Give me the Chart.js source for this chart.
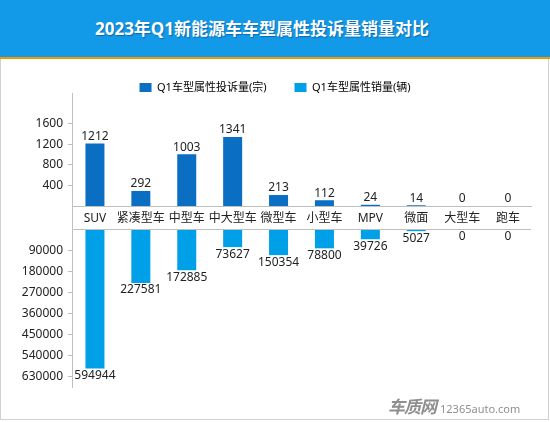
<!DOCTYPE html>
<html>
<head>
<meta charset="utf-8">
<script src="https://cdn.jsdelivr.net/npm/chart.js@4.4.1/dist/chart.umd.min.js"></script>
<style>
  body { margin: 0; background: #fff; font-family: "Noto Sans", "Noto Sans CJK SC", sans-serif; }
  #wrap { position: relative; width: 550px; height: 422px; overflow: hidden; background: #fff; }
  #title { position: absolute; left: 0; top: 0; width: 550px; height: 57px; background: #1299e8; border-bottom: 2px solid #f39800; }
  #title span { position: absolute; left: 0; top: 0; width: 524px; line-height: 57px; text-align: center; color: #fff; font-weight: bold; font-size: 17px; text-shadow: 1px 1px 1px rgba(0, 50, 110, 0.45); }
  #panel { position: absolute; left: 0; top: 59px; width: 547px; height: 360px; border: 1px solid #d0d0d0; border-top: none; }
  #topChart { position: absolute; left: 0; top: 54px; }
  #bottomChart { position: absolute; left: 0; top: 230px; }
  #mark { position: absolute; left: 388px; top: 393px; color: #8f8f8f; white-space: nowrap; }
  #mark b { font-size: 17px; font-style: italic; letter-spacing: -1px; }
  #mark span { font-size: 11px; margin-left: 4px; }
</style>
</head>
<body>
<div id="wrap">
  <div id="title"><span>2023年Q1新能源车车型属性投诉量销量对比</span></div>
  <div id="panel"></div>
  <canvas id="topChart" width="550" height="176"></canvas>
  <canvas id="bottomChart" width="550" height="190"></canvas>
  <div id="mark"><b>车质网</b><span>12365auto.com</span></div>
</div>
<script>
const categories = ['SUV', '紧凑型车', '中型车', '中大型车', '微型车', '小型车', 'MPV', '微面', '大型车', '跑车'];
const complaints = [1212, 292, 1003, 1341, 213, 112, 24, 14, 0, 0];
// printed sales numbers
const salesLabels = [594944, 227581, 172885, 73627, 150354, 78800, 39726, 5027, 0, 0];
// bar lengths as drawn in the picture (微型车 bar is shorter than its label)
const sales = [594944, 227581, 172885, 73627, 108000, 78800, 39726, 5027, 0, 0];
const complaintTicks = [400, 800, 1200, 1600];
const salesTicks = [90000, 180000, 270000, 360000, 450000, 540000, 630000];
const seriesNames = ['Q1车型属性投诉量(宗)', 'Q1车型属性销量(辆)'];
const colors = ['#0a6fc2', '#00a0e8'];

const fontFamily = '"Noto Sans", "Noto Sans CJK SC", sans-serif';
Chart.defaults.font.family = fontFamily;
Chart.defaults.font.size = 12;
Chart.defaults.color = '#222';
const axisColor = '#bfbfbf';

// value text next to each bar end
const valueLabels = {
    id: 'valueLabels',
    afterDatasetsDraw(chart, args, opts) {
        const ctx = chart.ctx;
        const meta = chart.getDatasetMeta(0);
        ctx.save();
        ctx.font = '12px ' + fontFamily;
        ctx.fillStyle = '#222';
        ctx.textAlign = 'center';
        meta.data.forEach((bar, i) => {
            const txt = String(opts.texts[i]);
            if (opts.below) {
                ctx.textBaseline = 'top';
                ctx.fillText(txt, bar.x, bar.y + 1);
            } else {
                ctx.textBaseline = 'bottom';
                ctx.fillText(txt, bar.x, bar.y - 1);
            }
        });
        ctx.restore();
    }
};

// box round the category labels
const band = {
    id: 'band',
    afterDraw(chart) {
        const {ctx, chartArea} = chart;
        const x = Math.round(chartArea.left) + 0.5;
        const yb = chart.height - 0.5;
        ctx.save();
        ctx.strokeStyle = axisColor;
        ctx.lineWidth = 1;
        ctx.beginPath();
        ctx.moveTo(x, chartArea.top - 10);
        ctx.lineTo(x, yb);
        ctx.moveTo(x, yb);
        ctx.lineTo(Math.round(chartArea.right), yb);
        ctx.stroke();
        ctx.restore();
    }
};

function yAxis(ticks, max, reverse) {
    return {
        min: 0,
        max: max,
        reverse: reverse,
        afterBuildTicks: s => { s.ticks = ticks.map(v => ({value: v})); },
        afterFit: s => { s.width = 53; s.paddingTop = 0; s.paddingBottom = 0; },
        grid: { drawOnChartArea: false, drawTicks: true, tickLength: 4, color: axisColor },
        border: { display: true, color: axisColor },
        ticks: { padding: 5, color: '#222', font: { size: 12 }, callback: v => String(v) }
    };
}

new Chart(document.getElementById('topChart'), {
    type: 'bar',
    data: {
        labels: categories,
        datasets: [{ label: seriesNames[0], data: complaints, backgroundColor: colors[0], categoryPercentage: 1, barPercentage: 0.414 }]
    },
    options: {
        responsive: false,
        animation: false,
        layout: { padding: { left: 19, right: 19, top: 0, bottom: 0 } },
        plugins: {
            legend: {
                position: 'top',
                labels: {
                    boxWidth: 12,
                    boxHeight: 9,
                    padding: 28,
                    color: '#333',
                    font: { size: 11 },
                    generateLabels: () => seriesNames.map((t, i) => ({
                        text: t, fillStyle: colors[i], strokeStyle: colors[i], lineWidth: 0, hidden: false, datasetIndex: 0
                    }))
                },
                onClick: () => {}
            },
            tooltip: { enabled: false },
            valueLabels: { texts: complaints, below: false }
        },
        scales: {
            x: {
                grid: { display: false, drawTicks: false },
                border: { display: true, color: axisColor },
                afterFit: s => { s.height = 24; },
                ticks: { padding: 5, color: '#222', font: { size: 12 }, maxRotation: 0, autoSkip: false }
            },
            y: yAxis(complaintTicks, 2000, false)
        }
    },
    plugins: [valueLabels, band]
});

new Chart(document.getElementById('bottomChart'), {
    type: 'bar',
    data: {
        labels: categories,
        datasets: [{ label: seriesNames[1], data: sales, backgroundColor: colors[1], categoryPercentage: 1, barPercentage: 0.414 }]
    },
    options: {
        responsive: false,
        animation: false,
        layout: { padding: { left: 19, right: 19, top: 0, bottom: 33 } },
        plugins: {
            legend: { display: false },
            tooltip: { enabled: false },
            valueLabels: { texts: salesLabels, below: true }
        },
        scales: {
            x: { display: false },
            y: yAxis(salesTicks, 675000, true)
        }
    },
    plugins: [valueLabels]
});
</script>
</body>
</html>
